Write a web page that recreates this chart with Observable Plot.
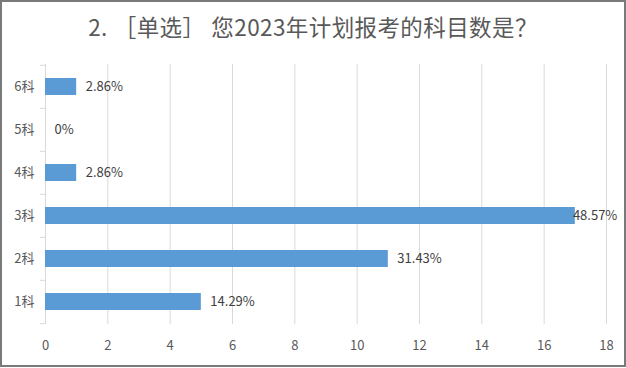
<!DOCTYPE html>
<html>
<head>
<meta charset="utf-8">
<script src="https://cdn.jsdelivr.net/npm/d3@7"></script>
<script src="https://cdn.jsdelivr.net/npm/@observablehq/plot@0.6"></script>
<style>
  body { margin: 0; background: #fff; }
  #wrap { position: relative; width: 626px; height: 368px; overflow: hidden; font-family: "Noto Sans CJK SC", "Noto Sans", sans-serif; }
  #title { height: 50px; line-height: 52px; text-align: center; font-size: 22.5px; letter-spacing: 0.4px; color: #595959; white-space: nowrap; }
  #title .bl { margin-left: 6px; }
  #title .br { margin-right: 6px; }
  #border { position: absolute; left: 0; top: 0; width: 626px; height: 367px; box-sizing: border-box; border: 2px solid #7a7a7a; pointer-events: none; }
  svg { display: block; }
</style>
</head>
<body>
<div id="wrap">
  <div id="title"></div>
  <div id="chart"></div>
  <div id="border"></div>
</div>
<script>
const titleText = "2.［单选］您2023年计划报考的科目数是？";
const categories = ["6科", "5科", "4科", "3科", "2科", "1科"];
const counts = [1, 0, 1, 17, 11, 5];
const percentLabels = ["2.86%", "0%", "2.86%", "48.57%", "31.43%", "14.29%"];
const xTicks = [0, 2, 4, 6, 8, 10, 12, 14, 16, 18];

const titleEl = document.getElementById("title");
for (const ch of titleText) {
  if (ch === "［" || ch === "］") {
    const s = document.createElement("span");
    s.className = ch === "［" ? "bl" : "br";
    s.textContent = ch;
    titleEl.appendChild(s);
  } else {
    titleEl.appendChild(document.createTextNode(ch));
  }
}

const data = categories.map((c, i) => ({cat: c, n: counts[i], label: percentLabels[i]}));
const maxN = d3.max(counts);

const H = 318, marginTop = 14, marginBottom = 44;
const step = (H - marginTop - marginBottom) / categories.length;

const chart = Plot.plot({
  width: 626,
  height: H,
  marginLeft: 45,
  marginRight: 20,
  marginTop,
  marginBottom,
  style: {fontFamily: "'Noto Sans CJK SC', 'Noto Sans', sans-serif", fontSize: "13px", color: "#595959", background: "transparent"},
  x: {domain: [0, 18], ticks: xTicks, label: null},
  y: {domain: categories, paddingInner: 0.6, paddingOuter: 0.3, label: null},
  marks: [
    Plot.ruleX(xTicks, {stroke: "#d9d9d9", strokeWidth: 1}),
    Plot.ruleY(categories, {y: d => d, dy: -step / 2, x1: 0, x2: 0, insetLeft: -5, stroke: "#d9d9d9"}),
    Plot.ruleY(categories.slice(-1), {y: d => d, dy: step / 2, x1: 0, x2: 0, insetLeft: -5, stroke: "#d9d9d9"}),
    Plot.barX(data, {x: "n", y: "cat", fill: "#5b9bd5"}),
    Plot.text(data.filter(d => d.n < maxN), {x: "n", y: "cat", text: "label", textAnchor: "start", dx: 9, fill: "#404040", fontSize: 13}),
    Plot.text(data.filter(d => d.n === maxN), {x: "n", y: "cat", text: "label", textAnchor: "end", dx: 42, fill: "#404040", fontSize: 13}),
    Plot.axisX({ticks: xTicks, tickSize: 0, tickPadding: 16, fill: "#595959", fontSize: 13, label: null}),
    Plot.axisY({tickSize: 0, tickPadding: 11, fill: "#595959", fontSize: 13, label: null})
  ]
});
document.getElementById("chart").appendChild(chart);
</script>
</body>
</html>
